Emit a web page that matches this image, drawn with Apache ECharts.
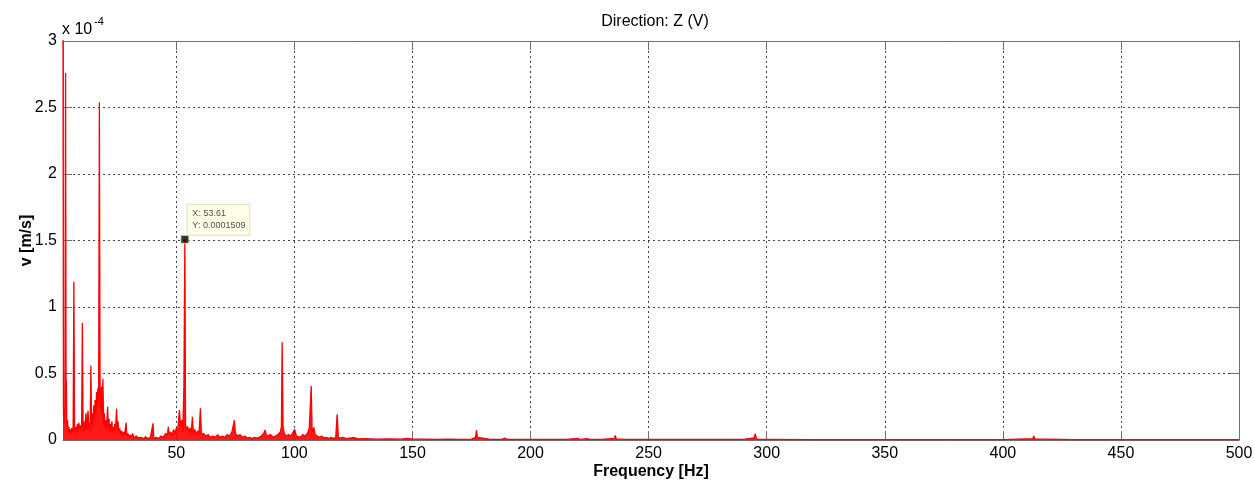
<!DOCTYPE html>
<html>
<head>
<meta charset="utf-8">
<script src="https://cdn.jsdelivr.net/npm/echarts@6/dist/echarts.min.js"></script>
<style>
html,body{margin:0;padding:0;background:#fff;}
#chart{width:1255px;height:481px;}
</style>
</head>
<body>
<div id="chart"></div>
<script>
// Frequency [Hz]
const freq = [
2.0,2.2,2.5,2.8,3.1,3.3,3.4,3.6,3.9,4.2,4.5,4.8,5.1,5.4,5.7,6.0,6.3,6.6,6.9,7.2,
7.5,7.8,8.1,8.4,8.7,9.0,9.3,9.6,9.9,10.2,10.5,10.8,11.1,11.4,11.7,12.0,12.3,12.6,12.9,13.2,
13.5,13.8,14.1,14.4,14.7,15.0,15.3,15.6,15.9,16.2,16.5,16.8,17.1,17.4,17.7,18.0,18.3,18.6,18.9,19.2,
19.5,19.8,20.1,20.4,20.7,20.9,21.2,21.5,21.8,22.1,22.4,22.7,23.0,23.3,23.6,23.9,24.2,24.7,25.0,25.3,
25.6,26.0,26.4,26.8,27.2,27.6,28.0,28.4,28.7,29.0,29.5,30.0,30.5,31.0,31.5,32.0,33.0,34.0,35.0,36.0,
37.0,38.0,39.0,39.7,40.1,40.5,41.5,42.5,43.5,44.5,45.5,46.2,46.6,47.0,47.6,48.2,48.8,49.4,50.0,50.6,
51.3,51.8,52.3,52.7,53.2,53.61,53.9,54.3,54.8,55.3,55.8,56.3,56.8,57.2,57.8,58.4,59.0,59.6,60.2,60.6,
61.5,62.5,63.5,64.5,65.5,66.5,67.5,68.5,69.5,70.5,71.5,72.5,73.5,74.2,74.6,75.0,76.0,77.0,78.0,79.0,
80.0,81.0,82.0,83.0,84.0,85.0,86.0,87.0,87.6,88.2,89.0,90.0,91.0,92.0,93.0,94.0,94.5,94.8,95.2,95.7,
96.5,97.5,98.5,99.3,100.1,100.8,101.5,102.5,103.5,104.5,105.5,106.3,106.8,107.1,107.5,108.2,108.8,109.5,110.5,111.5,
112.5,113.5,114.5,115.5,116.5,117.5,118.1,118.6,119.5,120.5,122.0,124.0,125.0,127.0,130.0,135.0,140.0,145.0,148.0,150.0,
155.0,160.0,165.0,170.0,175.0,176.7,177.1,177.5,178.0,183.0,188.0,189.0,190.0,195.0,200.0,206.5,207.0,207.5,215.0,220.0,
221.0,224.0,225.0,230.0,235.5,235.9,236.3,240.0,250.0,260.0,270.0,280.0,290.0,294.7,295.1,295.5,296.0,300.0,320.0,340.0,
360.0,380.0,400.0,412.7,413.1,413.5,414.0,430.0,450.0,470.0,490.0,500.0
];
// v [m/s] amplitude, in units of 1e-4
const amp = [
3.05,0.20,0.12,0.25,2.76,0.30,0.45,0.10,0.15,0.06,0.10,0.05,0.08,0.04,0.09,0.06,0.10,1.19,0.08,0.05,
0.10,0.07,0.12,0.06,0.13,0.08,0.11,0.07,0.12,0.88,0.10,0.14,0.06,0.12,0.20,0.08,0.15,0.22,0.09,0.13,
0.07,0.56,0.12,0.20,0.10,0.26,0.16,0.30,0.20,0.36,0.25,0.39,0.30,2.54,0.32,0.22,0.40,0.18,0.46,0.12,
0.20,0.09,0.15,0.07,0.18,0.25,0.10,0.16,0.06,0.12,0.08,0.14,0.06,0.10,0.05,0.12,0.07,0.235,0.08,0.14,
0.05,0.09,0.04,0.07,0.03,0.06,0.04,0.08,0.13,0.03,0.05,0.02,0.04,0.02,0.05,0.015,0.03,0.015,0.02,0.01,
0.025,0.01,0.02,0.01,0.125,0.01,0.02,0.01,0.03,0.02,0.05,0.03,0.10,0.04,0.06,0.03,0.08,0.05,0.09,0.07,
0.225,0.10,0.15,0.06,0.39,1.509,0.12,0.08,0.10,0.06,0.09,0.05,0.175,0.05,0.08,0.04,0.07,0.05,0.238,0.04,
0.05,0.03,0.04,0.02,0.03,0.02,0.04,0.02,0.03,0.02,0.04,0.03,0.06,0.07,0.15,0.05,0.03,0.04,0.02,0.03,
0.015,0.02,0.01,0.02,0.015,0.02,0.03,0.05,0.075,0.03,0.02,0.04,0.02,0.03,0.04,0.06,0.10,0.735,0.10,0.05,
0.03,0.04,0.03,0.02,0.08,0.03,0.04,0.02,0.04,0.03,0.05,0.09,0.10,0.406,0.06,0.095,0.04,0.03,0.02,0.03,
0.015,0.02,0.01,0.02,0.01,0.02,0.193,0.02,0.015,0.02,0.01,0.015,0.02,0.008,0.01,0.006,0.008,0.006,0.012,0.006,
0.006,0.005,0.006,0.005,0.006,0.02,0.075,0.02,0.006,0.005,0.005,0.015,0.005,0.005,0.005,0.005,0.02,0.005,0.004,0.012,
0.004,0.01,0.004,0.004,0.012,0.035,0.008,0.004,0.004,0.004,0.004,0.004,0.004,0.015,0.045,0.02,0.004,0.004,0.003,0.003,
0.003,0.003,0.003,0.01,0.03,0.008,0.003,0.003,0.003,0.003,0.003,0.003
];
// Data tip
const tipPoint = [53.61, 1.509];
const tipLines = ['X: 53.61', 'Y: 0.0001509'];
// Tick labels
const xTicks = [50,100,150,200,250,300,350,400,450,500];
const yTicks = [0,0.5,1,1.5,2,2.5,3];

const FONT = '"Liberation Sans", Arial, sans-serif';
const chart = echarts.init(document.getElementById('chart'), null, {renderer:'canvas'});
const seriesData = freq.map((f,i)=>[f, amp[i]]);

const axisLineStyle = {color:'#6e6e6e', width:1};
const gridLineStyle = {color:'#444', width:1, type:[2,3]};

const option = {
  animation:false,
  backgroundColor:'#fff',
  title:{
    text:'Direction: Z (V)', left:650, top:9, textAlign:'center',
    textStyle:{fontFamily:FONT, fontSize:16, fontWeight:'normal', color:'#000'}
  },
  grid:{left:63, right:16, top:41, bottom:41, containLabel:false, outerBoundsMode:'none'},
  xAxis:[{
    type:'value', min:2, max:500, position:'bottom',
    axisLine:{show:true, onZero:false, lineStyle:axisLineStyle},
    axisTick:{show:true, inside:true, length:9, lineStyle:axisLineStyle, customValues:xTicks},
    axisLabel:{show:true, margin:6, fontFamily:FONT, fontSize:16, color:'#000', customValues:xTicks, showMinLabel:true, showMaxLabel:true},
    splitLine:{show:true, lineStyle:gridLineStyle, customValues:xTicks},
    name:'Frequency [Hz]', nameLocation:'middle', nameGap:24, nameMoveOverlap:false,
    nameTextStyle:{fontFamily:FONT, fontSize:16, fontWeight:'bold', color:'#000'}
  },{
    type:'value', min:2, max:500, position:'top',
    axisLine:{show:true, onZero:false, lineStyle:axisLineStyle},
    axisTick:{show:true, inside:true, length:9, lineStyle:axisLineStyle, customValues:xTicks},
    axisLabel:{show:false},
    splitLine:{show:false}
  }],
  yAxis:[{
    type:'value', min:0, max:3, interval:0.5, position:'left',
    axisLine:{show:true, onZero:false, lineStyle:axisLineStyle},
    axisTick:{show:true, inside:true, length:9, lineStyle:axisLineStyle},
    axisLabel:{show:true, margin:6, fontFamily:FONT, fontSize:16, color:'#000'},
    splitLine:{show:true, lineStyle:gridLineStyle},
    name:'v [m/s]', nameLocation:'middle', nameGap:28, nameRotate:90, nameMoveOverlap:false,
    nameTextStyle:{fontFamily:FONT, fontSize:16, fontWeight:'bold', color:'#000'}
  },{
    type:'value', min:0, max:3, interval:0.5, position:'right',
    axisLine:{show:true, onZero:false, lineStyle:axisLineStyle},
    axisTick:{show:true, inside:true, length:9, lineStyle:axisLineStyle},
    axisLabel:{show:false},
    splitLine:{show:false}
  }],
  graphic:[{
    type:'text', left:62, top:22,
    style:{text:'x 10', fontFamily:FONT, fontSize:16, fill:'#000'}
  },{
    type:'text', left:94, top:16,
    style:{text:'-4', fontFamily:FONT, fontSize:11, fill:'#000'}
  }],
  series:[{
    type:'line', data:seriesData, xAxisIndex:0, yAxisIndex:0,
    showSymbol:false, symbol:'none', clip:true,
    lineStyle:{color:'#ff0000', width:1.3},
    itemStyle:{color:'#ff0000'},
    areaStyle:{color:'#ff0000', opacity:0.9},
    z:3
  },{
    type:'scatter', data:[tipPoint], xAxisIndex:0, yAxisIndex:0,
    symbol:'rect', symbolSize:8,
    itemStyle:{color:'#000', borderColor:'#f5f0b0', borderWidth:1},
    label:{
      show:true, position:[7,-30], align:'left', verticalAlign:'top',
      formatter: tipLines.join('\n'),
      fontFamily:FONT, fontSize:9, color:'#222', lineHeight:12,
      backgroundColor:'#ffffe1', borderColor:'#d8d8c8', borderWidth:1,
      padding:[3,4,3,5]
    },
    z:5
  }]
};
chart.setOption(option);
</script>
</body>
</html>
